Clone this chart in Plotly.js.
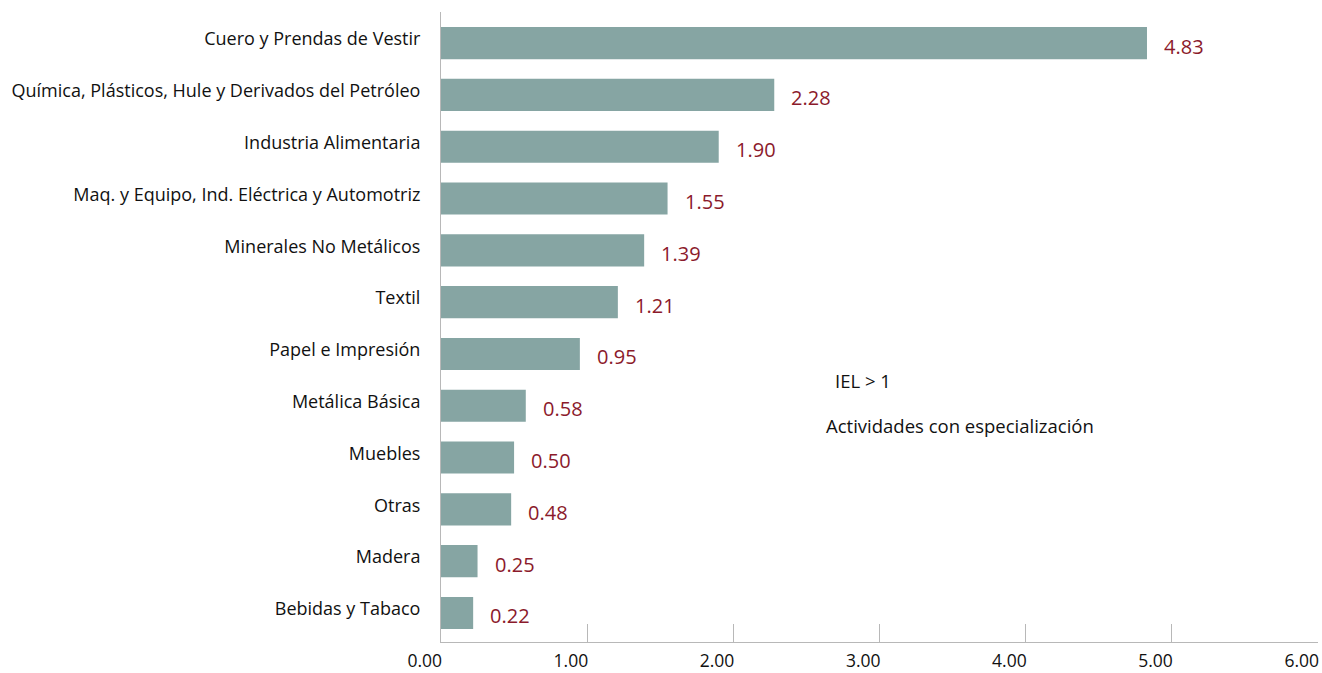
<!DOCTYPE html>
<html>
<head>
<meta charset="utf-8">
<script src="https://cdn.plot.ly/plotly-3.0.1.min.js"></script>
<style>html,body{margin:0;padding:0;background:#fff;}#chart{width:1322px;height:673px;}</style>
</head>
<body>
<div id="chart"></div>
<script>
const categories = [
  "Cuero y Prendas de Vestir",
  "Química, Plásticos, Hule y Derivados del Petróleo",
  "Industria Alimentaria",
  "Maq. y Equipo, Ind. Eléctrica y Automotriz",
  "Minerales No Metálicos",
  "Textil",
  "Papel e Impresión",
  "Metálica Básica",
  "Muebles",
  "Otras",
  "Madera",
  "Bebidas y Tabaco"
];
const values = [4.83, 2.28, 1.90, 1.55, 1.39, 1.21, 0.95, 0.58, 0.50, 0.48, 0.25, 0.22];
const xTicks = [0, 1, 2, 3, 4, 5, 6];
const noteLines = ["IEL > 1", "Actividades con especialización"];

const FONT = "'Open Sans', sans-serif";
const valueAnnotations = values.map((v, i) => ({
  x: v, y: categories[i], xref: 'x', yref: 'y',
  text: v.toFixed(2), showarrow: false,
  xanchor: 'left', yanchor: 'middle', xshift: 15, yshift: -3,
  font: {family: FONT, size: 20, color: '#8b1a2b'}
}));

const trace = {
  type: 'bar', orientation: 'h',
  x: values, y: categories,
  marker: {color: '#86a5a3'},
  hoverinfo: 'x+y'
};

const layout = {
  width: 1322, height: 673,
  margin: {l: 441, r: 4, t: 12, b: 31},
  paper_bgcolor: '#fff', plot_bgcolor: '#fff',
  font: {family: FONT, size: 18, color: '#111'},
  bargap: 0.38,
  showlegend: false,
  xaxis: {
    range: [0, 6], tickvals: xTicks, ticktext: xTicks.map(t => t.toFixed(2)),
    ticks: 'inside', ticklen: 18, tickcolor: '#b8b8b8', tickwidth: 1,
    ticklabelposition: 'outside left', ticklabelshift: 2, ticklabelstandoff: 3,
    showline: true, linecolor: '#b8b8b8', linewidth: 1,
    showgrid: false, zeroline: false,
    tickfont: {family: FONT, size: 17.5, color: '#111'}
  },
  yaxis: {
    type: 'category', range: [11.56, -0.6],
    showline: true, linecolor: '#b8b8b8', linewidth: 1,
    ticks: '', ticklabelstandoff: 16, ticklabelshift: 4,
    showgrid: false, zeroline: false,
    tickfont: {family: FONT, size: 18, color: '#111'}
  },
  annotations: valueAnnotations.concat([
    {xref: 'paper', yref: 'paper', x: (833 - 441) / 877, y: (642 - 381) / 630, xanchor: 'left', yanchor: 'middle',
     text: noteLines[0], showarrow: false, font: {family: FONT, size: 18.5, color: '#111'}},
    {xref: 'paper', yref: 'paper', x: (824 - 441) / 877, y: (642 - 425) / 630, xanchor: 'left', yanchor: 'middle',
     text: noteLines[1], showarrow: false, font: {family: FONT, size: 18.5, color: '#111'}}
  ])
};

Plotly.newPlot('chart', [trace], layout, {displayModeBar: false, staticPlot: true});
</script>
</body>
</html>
